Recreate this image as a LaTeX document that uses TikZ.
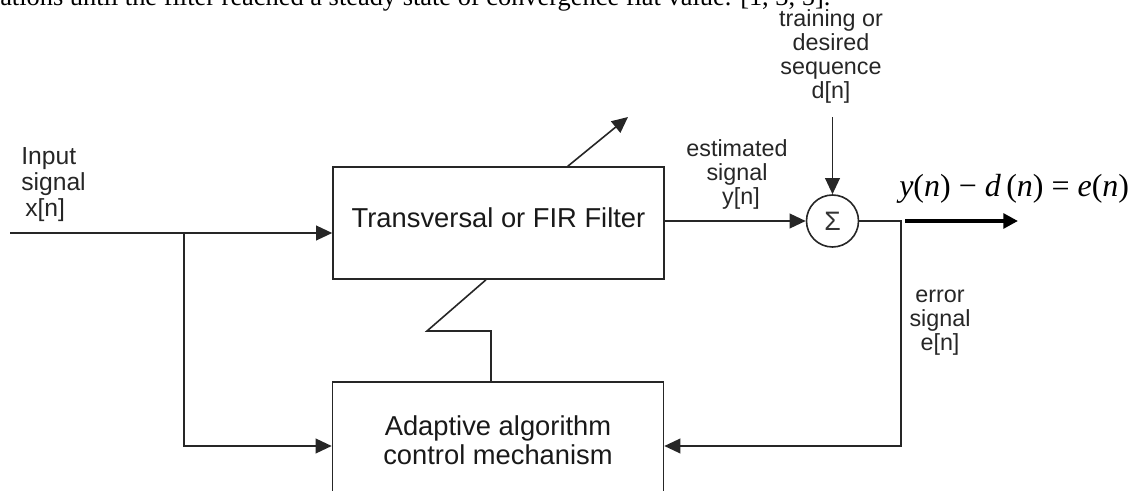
\documentclass[tikz,border=0pt]{standalone}
\usepackage{fontspec}
\setmainfont{Liberation Serif}
\setsansfont{Liberation Sans}
\usetikzlibrary{arrows.meta,positioning}

\def\px{0.75pt}
\tikzstyle{block}=[draw=black!85,line width=1.2pt,inner sep=0pt,minimum width=248.25pt,text=black!90,font=\sffamily\fontsize{20.5}{21.4}\selectfont,align=center]
\tikzstyle{sumnode}=[circle,draw=black!85,line width=1.2pt,minimum size=39pt,inner sep=0pt,text=black!80,font=\sffamily\fontsize{20}{20}\selectfont]
\tikzstyle{lbl}=[inner sep=0pt,text=black!85,font=\sffamily\fontsize{17.5}{18}\selectfont,align=center]
\tikzstyle{wire}=[draw=black!85,line width=1.2pt]
\tikzstyle{sig}=[wire,-{Triangle[length=12pt,width=11pt]}]
\tikzstyle{boldsig}=[draw=black,line width=3pt,-{Triangle[length=11pt,width=11pt]}]
\tikzstyle{eqn}=[inner sep=0pt,font=\fontsize{24}{24}\selectfont]
\tikzstyle{prose}=[inner sep=0pt,font=\fontsize{19.8}{22}\selectfont]

\begin{document}
\begin{tikzpicture}[x=\px,y=-\px]
       \useasboundingbox (0,0) rectangle (1138,491);
       \clip (0,0) rectangle (1138,491);
       \node[prose,anchor=base west] (txt) at (0,6) {ations until the filter reached a steady state of convergence flat value. [1, 3, 5].};

       \node[block,minimum height=84pt,text depth=7.5pt] (fir) at (498.5,223) {Transversal or FIR Filter};
       \node[block,minimum height=87pt] (adapt) at (498,440) {Adaptive algorithm\\control mechanism};
       \node[sumnode] (sum) at (832.5,221) {Σ};

       % multi-line labels sit on their last line
       \node[lbl,align=left,anchor=base west,font=\sffamily\fontsize{18.5}{19.5}\selectfont] (xlbl) at (21,217) {Input\\signal\\\hspace*{3pt}x[n]};
       \node[lbl,anchor=base] (dlbl) at (831,99) {training or\\desired\\sequence\\d[n]};
       \node[lbl,anchor=base] (ylbl) at (737,205) {estimated\\signal\\\hspace*{6pt}y[n]};
       \node[lbl,anchor=base] (elbl) at (940,351) {error\\signal\\e[n]};
       \node[eqn,anchor=base west] (eq) at (899,197) {\textit{y}(\textit{n}) − \textit{d}\,(\textit{n}) = \textit{e}(\textit{n})};

       \foreach \pos/\name in {{(10,233)/xin}, {(184,233)/tap}, {(901,221)/etap}, {(1018,221)/eout}, {(628,117)/tune}, {(427,331)/zz1}, {(491,331)/zz2}} {
           \node[coordinate] (\name) at \pos {};
       }

       \draw[sig] (xin) -- (xin -| fir.west);
       \draw[sig] (tap) |- ([yshift=-4.5pt]adapt.west);
       \draw[sig] (sum -| fir.east) -- (sum.west);
       \draw[sig,shorten <=10pt] (sum |- dlbl.south) -- (sum.north);
       \draw[sig] (sum.east) -- (etap) |- ([yshift=-4.5pt]adapt.east);
       \draw[boldsig] ([xshift=3pt]etap) -- (eout);
       \draw[sig] ([xshift=52pt]fir.north) -- (tune);
       \draw[wire] ([xshift=-9.4pt]fir.south) -- (zz1) -- (zz2) -- (zz2 |- adapt.north);
\end{tikzpicture}
\end{document}
